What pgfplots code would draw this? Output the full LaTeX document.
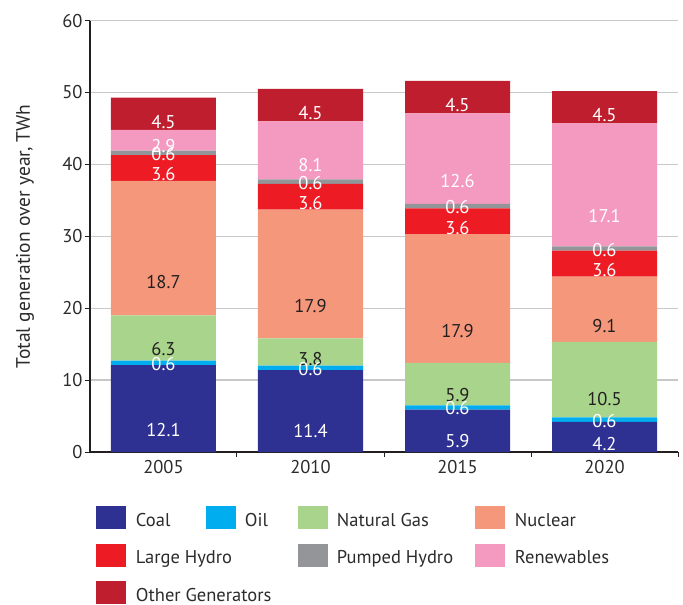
\documentclass[border=0pt]{standalone}
\usepackage{pgfplots}
\pgfplotsset{compat=1.18}
\usepackage{fontspec}
\setmainfont{PT Sans}
\definecolor{coal}{HTML}{2E3192}
\definecolor{oil}{HTML}{00AEEF}
\definecolor{gas}{HTML}{A8D48C}
\definecolor{nuclear}{HTML}{F4977A}
\definecolor{lhydro}{HTML}{ED1C24}
\definecolor{phydro}{HTML}{939598}
\definecolor{renew}{HTML}{F49AC1}
\definecolor{other}{HTML}{BE1E2D}
\definecolor{axdark}{HTML}{231F20}
\definecolor{txt}{HTML}{2B2B2B}
\definecolor{gridc}{HTML}{C8C8C8}
\newcommand{\fs}{\fontsize{18.5pt}{21pt}\selectfont}
\begin{document}
\begin{tikzpicture}
\useasboundingbox (-90pt,-153pt) rectangle (593pt,452pt);
\begin{axis}[
  x=147pt, y=7.19pt,
  xmin=-0.5, xmax=3.5, ymin=0, ymax=60,
  ybar stacked, bar width=105pt,
  axis x line*=bottom, axis y line*=left,
  axis line style={line width=2.2pt, color=axdark},
  xtick={0,1,2,3}, xticklabels={2005,2010,2015,2020},
  xtick style={draw=none},
  extra x ticks={0.5,1.5,2.5,3.5}, extra x tick labels={},
  extra x tick style={xtick style={draw=axdark, line width=1pt}},
  ytick={0,10,...,60},
  tick align=outside, major tick length=5pt,
  ytick style={draw=axdark, line width=1pt},
  ymajorgrids, grid style={color=gridc, line width=1.3pt},
  tick label style={font=\fs, text=txt},
  yticklabel style={xshift=1pt},
  /pgf/number format/assume math mode=true,
  ylabel={Total generation over year, TWh},
  ylabel style={at={(axis description cs:-0.1105,0.5)}, anchor=center, font=\fontsize{19.5pt}{22pt}\selectfont, text=txt},
  visualization depends on={rawy \as \rawy},
  nodes near coords={\pgfmathprintnumber[fixed,fixed zerofill,precision=1,assume math mode=true]{\rawy}},
  nodes near coords align={anchor=center},
  every node near coord/.append style={font=\fs, anchor=center, yshift=-\rawy*1.7975pt},
  legend columns=4,
  legend image code/.code={\fill[#1] (0pt,-8.5pt) rectangle (30pt,14.5pt);},
  legend style={at={(rel axis cs:0,0)}, anchor=north west, xshift=6pt, yshift=-54pt,
    draw=none, fill=none, inner sep=0pt, outer sep=0pt,
    row sep=14.5pt, column sep=0pt,
    nodes={inner sep=0pt, font=\fs, text=txt}},
]
\addplot[fill=coal, draw=none, every node near coord/.append style={text=white}] coordinates {(0,12.1) (1,11.4) (2,5.9) (3,4.2)};
\addlegendentry{\makebox[80pt][l]{\hspace{10pt}Coal}}
\addplot[fill=oil, draw=none, every node near coord/.append style={text=white}] coordinates {(0,0.6) (1,0.6) (2,0.6) (3,0.6)};
\addlegendentry{\makebox[62pt][l]{\hspace{9pt}Oil}}
\addplot[fill=gas, draw=none, every node near coord/.append style={text=axdark}] coordinates {(0,6.3) (1,3.8) (2,5.9) (3,10.5)};
\addlegendentry{\makebox[147pt][l]{\hspace{9pt}Natural Gas}}
\addplot[fill=nuclear, draw=none, every node near coord/.append style={text=axdark}] coordinates {(0,18.7) (1,17.9) (2,17.9) (3,9.1)};
\addlegendentry{\makebox[150pt][l]{\hspace{10pt}Nuclear}}
\addplot[fill=lhydro, draw=none, every node near coord/.append style={text=white}] coordinates {(0,3.6) (1,3.6) (2,3.6) (3,3.6)};
\addlegendentry{\makebox[80pt][l]{\hspace{10pt}Large Hydro}}
\addlegendimage{empty legend}
\addlegendentry{\makebox[62pt][l]{}}
\addplot[fill=phydro, draw=none, every node near coord/.append style={text=white}] coordinates {(0,0.6) (1,0.6) (2,0.6) (3,0.6)};
\addlegendentry{\makebox[147pt][l]{\hspace{9pt}Pumped Hydro}}
\addplot[fill=renew, draw=none, every node near coord/.append style={text=white}] coordinates {(0,2.9) (1,8.1) (2,12.6) (3,17.1)};
\addlegendentry{\makebox[150pt][l]{\hspace{10pt}Renewables}}
\addplot[fill=other, draw=none, every node near coord/.append style={text=white}] coordinates {(0,4.5) (1,4.5) (2,4.5) (3,4.5)};
\addlegendentry{\makebox[80pt][l]{\hspace{10pt}Other Generators}}
\end{axis}
\end{tikzpicture}
\end{document}
